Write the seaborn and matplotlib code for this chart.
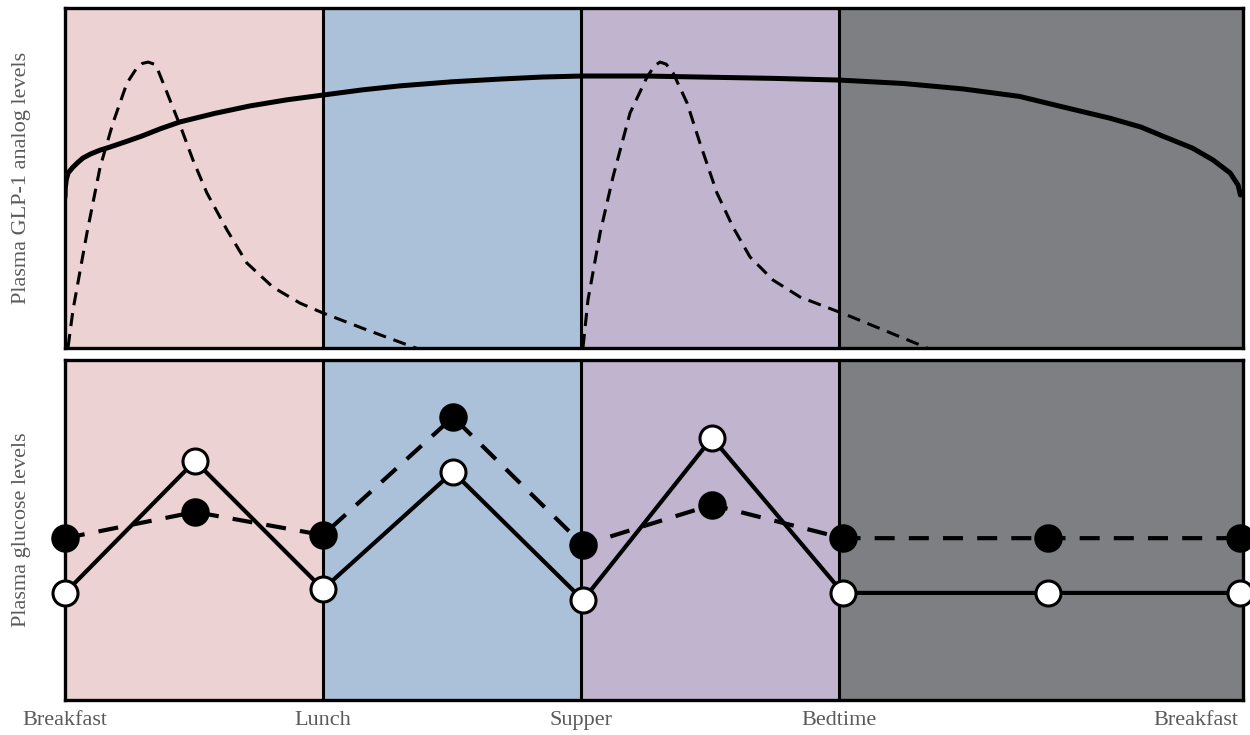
import numpy as np
import pandas as pd
import matplotlib
matplotlib.use('Agg')
import matplotlib.pyplot as plt
import seaborn as sns

# ── Data ───────────────────────────────────────────────
# x axis: one unit = one meal interval (Breakfast -> Lunch)
tick_pos = [0, 1, 2, 3, 4.55]
tick_labels = ['Breakfast', 'Lunch', 'Supper', 'Bedtime', 'Breakfast']
span_edges = [0, 1, 2, 3, 4.566]
span_colors = ['#ECD2D3', '#AAC1D9', '#C0B4CF', '#7E7F83']

# top panel: long-acting analog (solid) and short-acting analog (dashed)
long_x = [0.0, 0.001, 0.005, 0.012, 0.031, 0.05, 0.070, 0.10, 0.136, 0.174,
          0.24, 0.30, 0.37, 0.446, 0.58, 0.717, 0.86, 1.0, 1.15, 1.298,
          1.50, 1.686, 1.85, 2.004, 2.25, 2.461, 2.75, 3.004, 3.25, 3.481,
          3.70, 3.868, 4.05, 4.17, 4.256, 4.37, 4.45, 4.516, 4.547, 4.556]
long_y = [4.44, 4.70, 4.95, 5.15, 5.32, 5.46, 5.59, 5.71, 5.82, 5.91,
          6.08, 6.24, 6.45, 6.65, 6.90, 7.12, 7.30, 7.44, 7.59, 7.71,
          7.83, 7.91, 7.97, 8.00, 8.00, 7.97, 7.93, 7.88, 7.78, 7.62,
          7.40, 7.09, 6.76, 6.50, 6.23, 5.88, 5.53, 5.15, 4.79, 4.50]

short1_x = [0.012, 0.031, 0.085, 0.136, 0.186, 0.240, 0.275, 0.30, 0.322,
            0.345, 0.360, 0.407, 0.453, 0.496, 0.550, 0.628, 0.705, 0.806,
            0.911, 1.0, 1.171, 1.349, 1.45]
short1_y = [0.03, 1.12, 3.38, 5.32, 6.62, 7.79, 8.20, 8.37, 8.41,
            8.35, 8.18, 7.29, 6.41, 5.53, 4.56, 3.47, 2.50, 1.79,
            1.32, 1.03, 0.53, 0.03, -0.25]

short2_x = [2.008, 2.027, 2.074, 2.124, 2.190, 2.256, 2.285, 2.306, 2.33,
            2.357, 2.411, 2.461, 2.527, 2.589, 2.655, 2.744, 2.849, 3.031,
            3.314, 3.40]
short2_y = [0.03, 1.41, 3.38, 5.03, 6.91, 7.97, 8.30, 8.41, 8.35,
            8.09, 7.21, 6.03, 4.56, 3.56, 2.68, 2.00, 1.50, 0.97,
            0.09, -0.20]

# bottom panel: plasma glucose
glu_x = [0, 0.504, 1.0, 1.504, 2.008, 2.508, 3.015, 3.81, 4.554]
glu_open = [3.15, 7.03, 3.26, 6.71, 2.94, 7.71, 3.15, 3.15, 3.15]      # white circles, solid
glu_filled = [4.76, 5.53, 4.85, 8.32, 4.56, 5.74, 4.76, 4.76, 4.76]    # black circles, dashed

# ── Style ──────────────────────────────────────────────
sns.set_theme(style='white')
plt.rcParams['font.family'] = ['Liberation Serif', 'DejaVu Serif']
text_color = '#5a5a5a'

fig = plt.figure(figsize=(12.5, 7.35), dpi=100)
ax_top = fig.add_axes([0.052, 0.5265, 0.9424, 0.4626])
ax_bot = fig.add_axes([0.052, 0.0476, 0.9424, 0.4626])

for ax in (ax_top, ax_bot):
    for i, c in enumerate(span_colors):
        ax.axvspan(span_edges[i], span_edges[i + 1], color=c, lw=0, zorder=0)
    for xv in span_edges[1:-1]:
        ax.axvline(xv, color='black', lw=2.2, zorder=1)
    ax.set_xlim(0, 4.566)
    ax.set_ylim(0, 10)
    ax.set_yticks([])
    for sp in ax.spines.values():
        sp.set_color('black')
        sp.set_linewidth(2.4)
        sp.set_visible(True)
    ax.tick_params(length=0)

# ── Top panel ──────────────────────────────────────────
sns.lineplot(x=long_x, y=long_y, ax=ax_top, color='black', lw=3.6,
             sort=False, estimator=None, zorder=3)
sns.lineplot(x=short1_x, y=short1_y, ax=ax_top, color='black', lw=2.2,
             linestyle=(0, (4.3, 2.6)), sort=False, estimator=None, zorder=3)
sns.lineplot(x=short2_x, y=short2_y, ax=ax_top, color='black', lw=2.2,
             linestyle=(0, (4.3, 2.6)), sort=False, estimator=None, zorder=3)
ax_top.set_xticks([])
ax_top.set_xlabel('')
ax_top.set_ylabel('')

# ── Bottom panel ───────────────────────────────────────
sns.lineplot(x=glu_x, y=glu_filled, ax=ax_bot, color='black', lw=3.0,
             linestyle=(0, (4.8, 3.4)), marker='o', markersize=19,
             markerfacecolor='black', markeredgecolor='black',
             markeredgewidth=1.5, sort=False, estimator=None,
             clip_on=False, zorder=3)
sns.lineplot(x=glu_x, y=glu_open, ax=ax_bot, color='black', lw=3.0,
             marker='o', markersize=18, markerfacecolor='white',
             markeredgecolor='black', markeredgewidth=2.2, sort=False,
             estimator=None, clip_on=False, zorder=4)

ax_bot.set_xticks(tick_pos)
ax_bot.set_xticklabels(tick_labels, fontsize=16, color=text_color)
ax_bot.get_xticklabels()[-1].set_ha('right')
ax_bot.tick_params(axis='x', pad=8)
ax_bot.set_ylabel('')

# y labels placed as figure text
fig.text(0.0176, 0.5265 + 0.4626 / 2, 'Plasma GLP-1 analog levels',
         rotation=90, ha='center', va='center', fontsize=16, color=text_color)
fig.text(0.0176, 0.0476 + 0.4626 / 2, 'Plasma glucose levels',
         rotation=90, ha='center', va='center', fontsize=16, color=text_color)

fig.savefig('out.png', dpi=100)
